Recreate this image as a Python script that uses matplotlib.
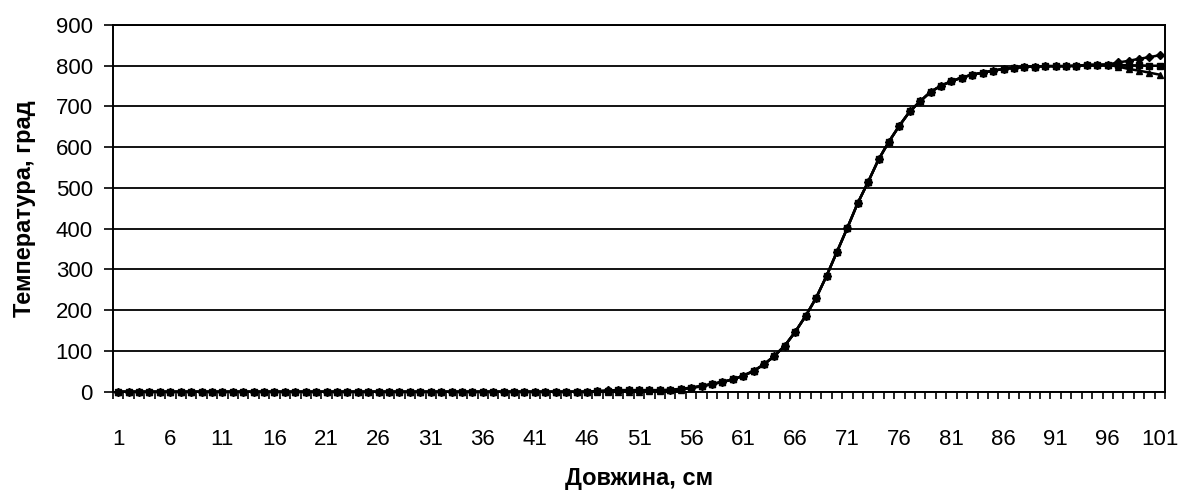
import matplotlib
matplotlib.use("Agg")
import matplotlib.pyplot as plt
from matplotlib.ticker import FixedLocator, NullFormatter

plt.rcParams['font.family'] = ['Liberation Sans', 'DejaVu Sans']

# Номери точок по довжині
positions = list(range(1, 102))
tick_labels = [str(p) for p in range(1, 102, 5)]

# Температура для трьох розрахунків, град
temp_a = [0, 0, 0, 0, 0, 0, 0, 0, 0, 0,
          0, 0, 0, 0, 0, 0, 0, 0, 0, 0,
          0, 0, 0, 0, 0, 0, 0, 0, 0, 0,
          0, 0, 0, 0, 0, 0, 0, 0, 0, 0,
          0, 0, 0, 0, 0, 0, 2, 3, 4, 4,
          4, 4, 4, 5, 7, 10, 14, 19, 24, 30,
          39, 51, 67, 88, 113, 147, 186, 230, 284, 343,
          402, 463, 515, 570, 614, 653, 688, 713, 736, 751,
          762, 771, 778, 783, 788, 792, 795, 797, 798, 799,
          799, 799, 800, 802, 802, 803, 808, 812, 817, 821,
          826]
temp_b = [0, 0, 0, 0, 0, 0, 0, 0, 0, 0,
          0, 0, 0, 0, 0, 0, 0, 0, 0, 0,
          0, 0, 0, 0, 0, 0, 0, 0, 0, 0,
          0, 0, 0, 0, 0, 0, 0, 0, 0, 0,
          0, 0, 0, 0, 0, 0, 1, 2, 3, 3,
          3, 3, 3, 4, 6, 10, 14, 19, 24, 30,
          39, 51, 67, 88, 113, 147, 186, 230, 284, 343,
          402, 463, 515, 570, 614, 653, 688, 713, 736, 751,
          762, 771, 778, 783, 788, 792, 795, 797, 798, 799,
          799, 799, 800, 802, 802, 803, 802, 801, 801, 800,
          800]
temp_c = [0, 0, 0, 0, 0, 0, 0, 0, 0, 0,
          0, 0, 0, 0, 0, 0, 0, 0, 0, 0,
          0, 0, 0, 0, 0, 0, 0, 0, 0, 0,
          0, 0, 0, 0, 0, 0, 0, 0, 0, 0,
          0, 0, 0, 0, 0, 0, 0, 0, 0, 0,
          0, 1, 2, 3, 5, 9, 13, 18, 24, 30,
          39, 51, 67, 88, 113, 147, 186, 230, 284, 343,
          402, 463, 515, 570, 614, 653, 688, 713, 736, 751,
          762, 771, 778, 783, 788, 792, 795, 797, 798, 799,
          799, 799, 800, 802, 802, 802, 798, 792, 788, 783,
          778]

fig = plt.figure(figsize=(11.8, 4.9), dpi=100)
ax = fig.add_axes([0.0958, 0.2006, 0.8915, 0.7484])

for vals, mk in [(temp_a, 'D'), (temp_b, 's'), (temp_c, '^')]:
    ax.plot(positions, vals, color='black', linewidth=1.8,
            marker=mk, markersize=4.5, markerfacecolor='black',
            markeredgecolor='black', clip_on=False, zorder=3)

ax.set_xlim(0.5, 101.5)
ax.set_ylim(0, 900)
ax.set_yticks(range(0, 901, 100))
ax.yaxis.grid(True, color='black', linewidth=1.3)
ax.set_axisbelow(True)

# Підписи категорій по центрах, риски між категоріями
ax.xaxis.set_major_locator(FixedLocator(list(range(1, 102, 5))))
ax.set_xticklabels(tick_labels)
ax.xaxis.set_minor_locator(FixedLocator([p + 0.5 for p in range(0, 102)]))
ax.xaxis.set_minor_formatter(NullFormatter())
ax.tick_params(axis='x', which='major', length=0, pad=27, labelsize=16)
ax.tick_params(axis='x', which='minor', length=5, width=1.2, direction='out')
ax.tick_params(axis='y', length=6.5, width=1.2, pad=8, labelsize=16)

for side in ['left', 'bottom', 'right', 'top']:
    ax.spines[side].set_linewidth(1.4)
    ax.spines[side].set_color('black')

ax.set_xlabel('Довжина, см', fontsize=17, fontweight='bold', labelpad=12)
ax.set_ylabel('Температура, град', fontsize=17, fontweight='bold', labelpad=14)

fig.savefig('out.png', dpi=100, facecolor='white')
